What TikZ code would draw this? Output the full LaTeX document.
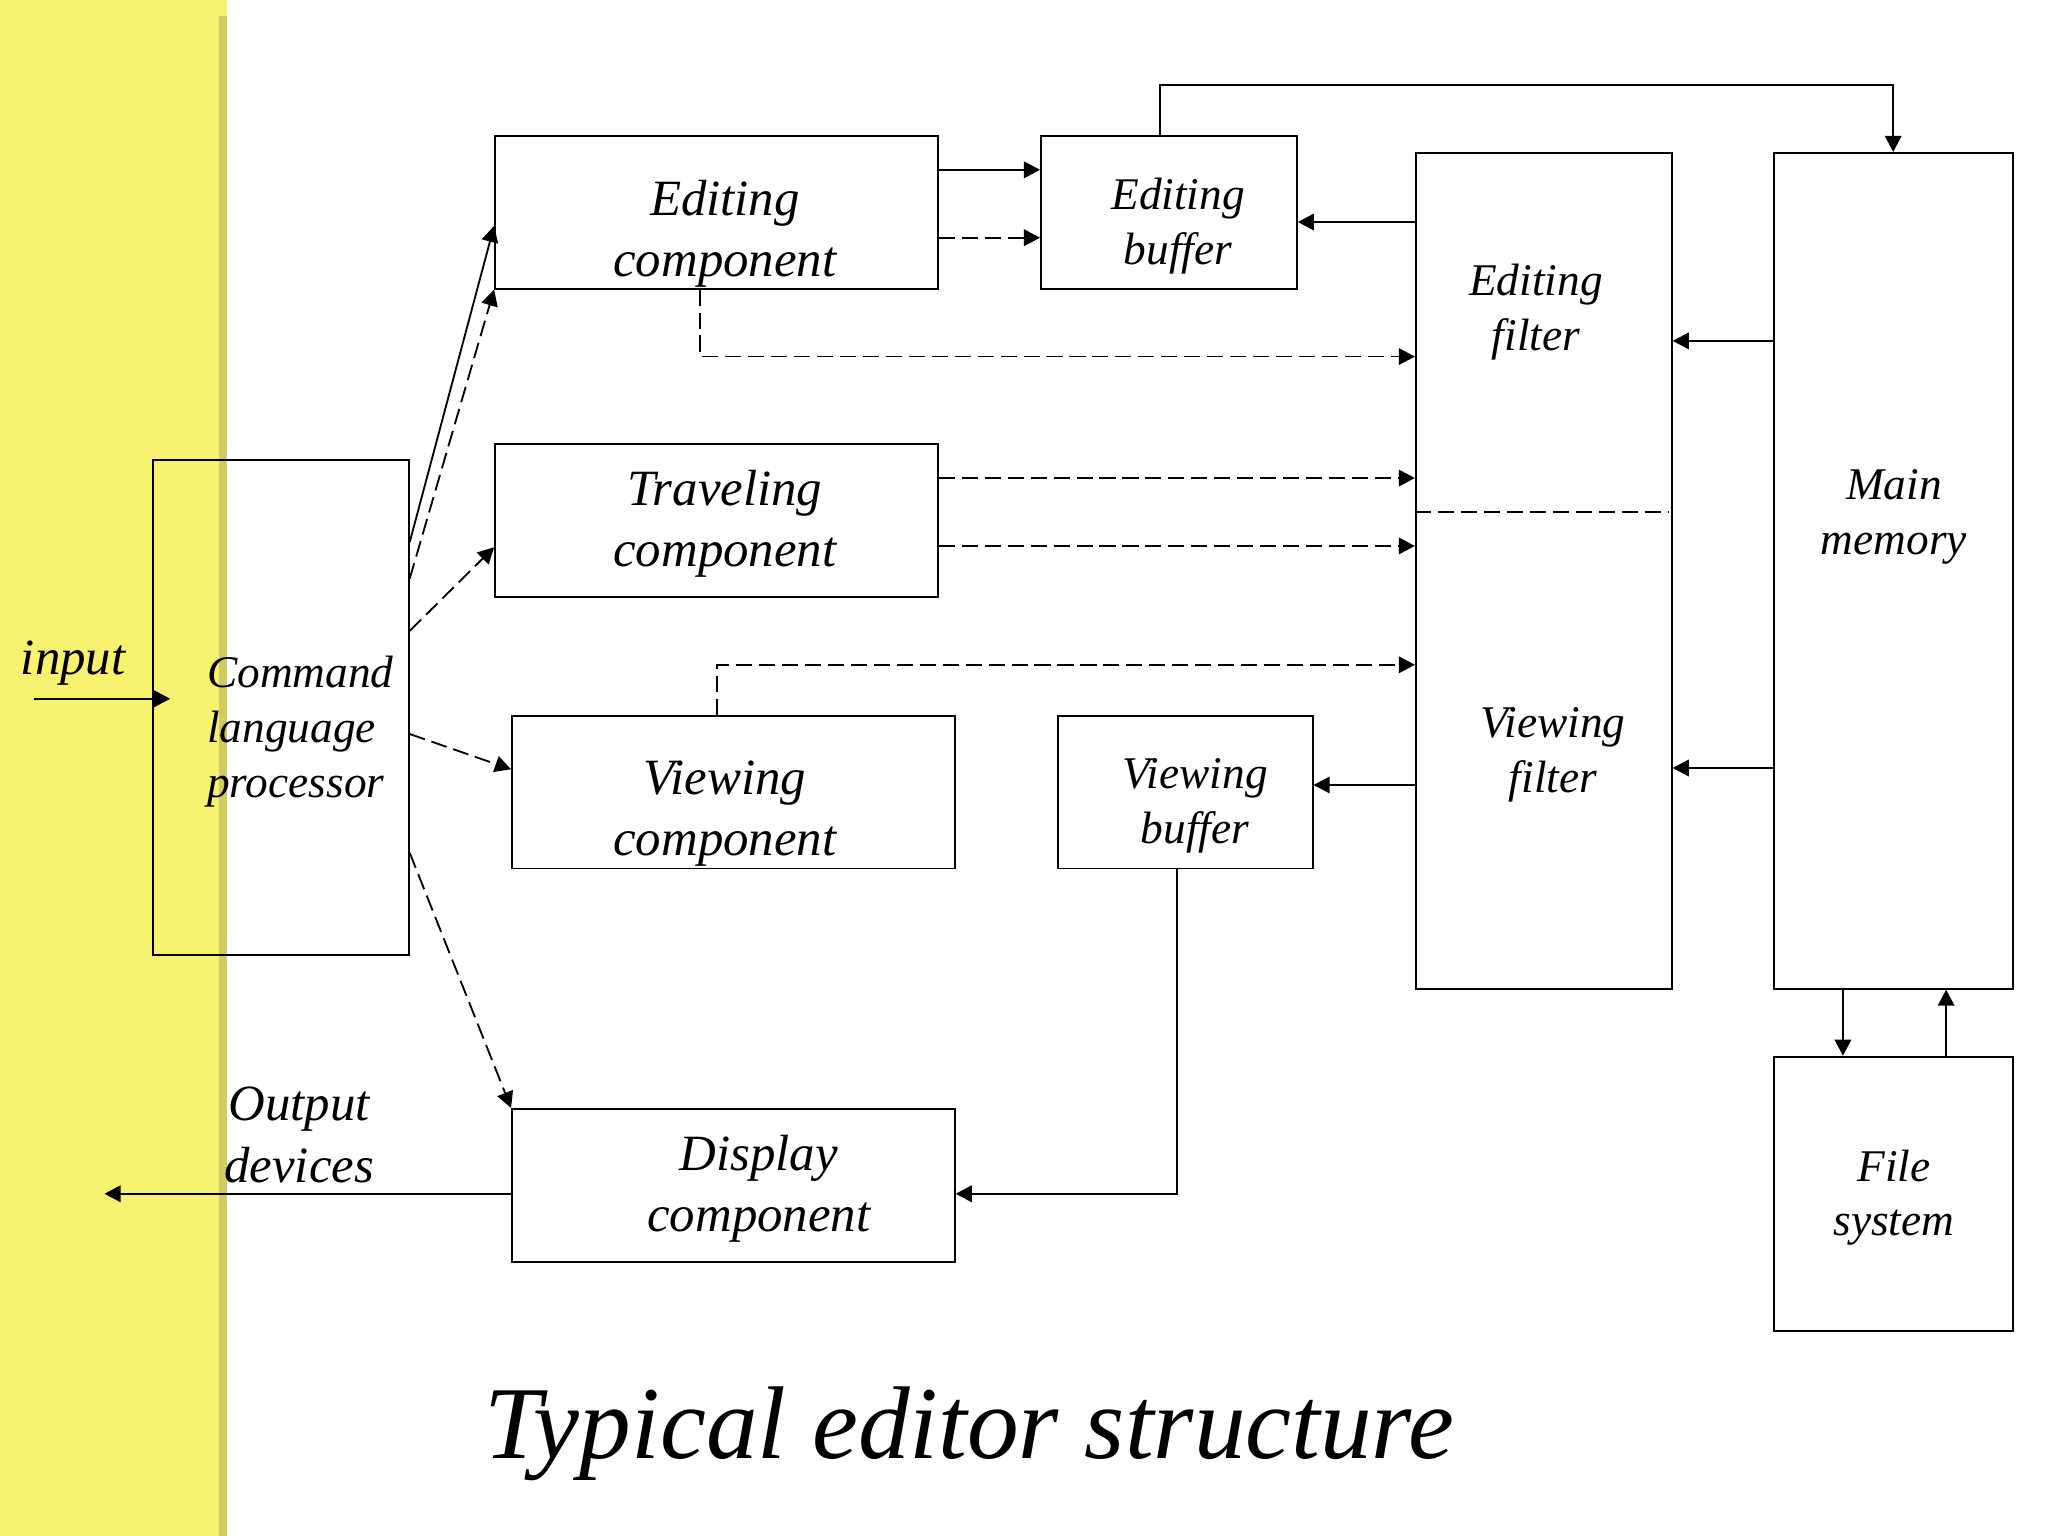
\documentclass[tikz,border=0pt]{standalone}
\usepackage{fontspec}
\setmainfont{Liberation Serif}
\usetikzlibrary{arrows.meta,fit}
\definecolor{slideyellow}{RGB}{246,242,112}
\definecolor{slideshade}{RGB}{208,204,98}
\tikzset{
  blk/.style={draw, line width=0.4pt, inner sep=0pt},
  bigtxt/.style={align=center, inner sep=0pt, font=\fontsize{11.07}{13.4}\selectfont\itshape},
  smalltxt/.style={align=center, inner sep=0pt, font=\fontsize{9.87}{11.95}\selectfont\itshape},
  flow/.style={line width=0.4pt, -{Triangle[length=3.5pt,width=3.6pt]}},
  dflow/.style={flow, dash pattern=on 3.5pt off 1.5pt},
}

\begin{document}
\begin{tikzpicture}[x=0.01cm, y=-0.01cm]
  \useasboundingbox (0,0) rectangle (1568,1176);
  \fill[slideyellow] (0,0) rectangle (173.5,1176);
  \fill[slideshade] (167.5,12) rectangle (173.5,1176);

  \node[blk, fit={(117,352) (313,731)}] (clp) {};
  \node[blk, fit={(379,104) (718,221)}] (edc) {};
  \node[blk, fit={(797,104) (993,221)}] (ebuf) {};
  \node[blk, fit={(1084,117) (1280,757)}] (filt) {};
  \node[blk, fit={(1358,117) (1541,757)}] (mem) {};
  \node[blk, fit={(379,340) (718,457)}] (trc) {};
  \node[blk, fit={(392,548) (731,665)}] (vwc) {};
  \node[blk, fit={(810,548) (1005,665)}] (vbuf) {};
  \node[blk, fit={(392,849) (731,966)}] (dsp) {};
  \node[blk, fit={(1358,809) (1541,1019)}] (fsys) {};

  \node[smalltxt, align=left, anchor=west] (clp-t) at (158,560) {Command\\language\\processor};
  \node[bigtxt] (edc-t) at (555,179) {Editing\\component};
  \node[smalltxt] (ebuf-t) at (902,173) {Editing\\buffer};
  \node[smalltxt] (efilt-t) at (1176,239) {Editing\\filter};
  \node[smalltxt] (vfilt-t) at (1189,578) {Viewing\\filter};
  \node[smalltxt] (mem-t) at (1450,396) {Main\\memory};
  \node[bigtxt] (trc-t) at (555,401) {Traveling\\component};
  \node[bigtxt] (vwc-t) at (555,623) {Viewing\\component};
  \node[smalltxt] (vbuf-t) at (915,617) {Viewing\\buffer};
  \node[bigtxt] (dsp-t) at (581,910) {Display\\component};
  \node[smalltxt] (fsys-t) at (1450,917) {File\\system};
  \node[bigtxt] (inp-t) at (56,508) {input};
  \node[bigtxt] (out-t) at (229,869) {Output\\devices};
  \node[inner sep=0pt, font=\fontsize{22.5}{26}\selectfont\itshape] (title) at (742,1098) {Typical editor structure};

  \draw[dash pattern=on 3.5pt off 1.5pt, line width=0.4pt] (filt.west |- 0,392) -- ([xshift=-0.03cm]filt.east |- 0,392);

  \coordinate (inp) at (26,535);
  \coordinate (out) at (80,914);
  \draw[flow, shorten >=-0.14cm] (inp) -- (clp.west |- inp);
  \draw[flow] (dsp.west |- out) -- (out);

  \draw[flow] (clp.east |- 0,415) -- (edc.west |- 0,173);
  \draw[dflow] (clp.east |- 0,443) -- (edc.south west);
  \draw[dflow] (clp.east |- 0,483) -- (trc.west |- 0,419);
  \draw[dflow] (clp.east |- 0,562) -- (vwc.west |- 0,589);
  \draw[dflow] (clp.east |- 0,653) -- (dsp.north west);

  \draw[flow] (edc.east |- 0,130) -- (ebuf.west |- 0,130);
  \draw[dflow] (edc.east |- 0,182) -- (ebuf.west |- 0,182);
  \draw[flow] (filt.west |- 0,170) -- (ebuf.east |- 0,170);
  \draw[flow] (ebuf.north -| 888,0) -- (888,65) -| (mem.north);
  \draw[flow] (mem.west |- 0,261) -- (filt.east |- 0,261);
  \draw[flow] (mem.west |- 0,588) -- (filt.east |- 0,588);
  \draw[dflow] (edc.south -| 536,0) |- (filt.west |- 0,273);
  \draw[dflow] (trc.east |- 0,366) -- (filt.west |- 0,366);
  \draw[dflow] (trc.east |- 0,418) -- (filt.west |- 0,418);
  \draw[dflow] (vwc.north -| 549,0) |- (filt.west |- 0,509);
  \draw[flow] (filt.west |- 0,601) -- (vbuf.east |- 0,601);
  \draw[flow] (vbuf.south -| 901,0) |- (dsp.east |- 0,914);
  \draw[flow] (mem.south -| 1411,0) -- (fsys.north -| 1411,0);
  \draw[flow] (fsys.north -| 1490,0) -- (mem.south -| 1490,0);
\end{tikzpicture}
\end{document}
